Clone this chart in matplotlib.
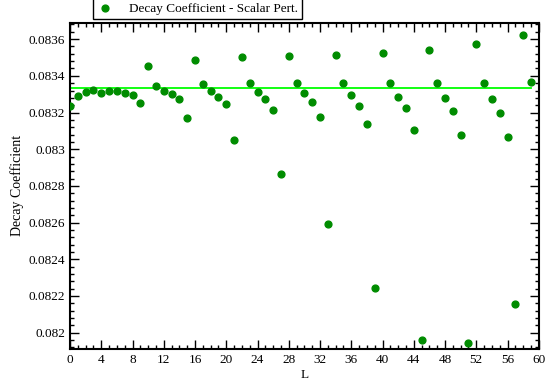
import numpy as np
import matplotlib
matplotlib.use("Agg")
import matplotlib.pyplot as plt
from matplotlib.ticker import MultipleLocator, FuncFormatter

plt.rcParams['font.family'] = ['Liberation Serif', 'DejaVu Serif']

# decay coefficient of the scalar perturbation for each multipole L
L = np.arange(60)
decay = [
    0.083238, 0.083291, 0.083312, 0.083322, 0.083309, 0.083316, 0.083315, 0.083307,
    0.083294, 0.083251, 0.083454, 0.083342, 0.083320, 0.083300, 0.083271, 0.083169,
    0.083489, 0.083354, 0.083318, 0.083287, 0.083244, 0.083049, 0.083502, 0.083360,
    0.083312, 0.083273, 0.083211, 0.082865, 0.083509, 0.083362, 0.083305, 0.083256,
    0.083174, 0.082591, 0.083514, 0.083360, 0.083296, 0.083238, 0.083138, 0.082242,
    0.083523, 0.083360, 0.083287, 0.083222, 0.083105, 0.081960, 0.083541, 0.083360,
    0.083280, 0.083207, 0.083078, 0.081945, 0.083571, 0.083362, 0.083274, 0.083195,
    0.083064, 0.082158, 0.083623, 0.083369,
]
reference = 1.0 / 12.0

fig = plt.figure(figsize=(5.47, 3.84), dpi=100)
ax = fig.add_axes([0.128, 0.091, 0.857, 0.850])

ax.plot([L[0], L[-1]], [reference, reference], color='#00ff00', lw=1.3, zorder=2)
sc = ax.scatter(L, decay, s=24, color='#008c00', zorder=3,
                label='Decay Coefficient - Scalar Pert.')

ax.set_xlim(0, 60)
ax.set_ylim(0.08191, 0.08369)
ax.xaxis.set_major_locator(MultipleLocator(4))
ax.xaxis.set_minor_locator(MultipleLocator(1))
ax.yaxis.set_major_locator(MultipleLocator(0.0002))
ax.yaxis.set_minor_locator(MultipleLocator(0.00004))
ax.yaxis.set_major_formatter(FuncFormatter(lambda v, p: '%g' % round(v, 6)))

ax.tick_params(which='both', direction='in', top=True, right=True,
               labelsize=9.5, width=1)
ax.tick_params(which='major', length=6.5)
ax.tick_params(which='minor', length=3)
for s in ax.spines.values():
    s.set_linewidth(1.5)

ax.set_xlabel('L', fontsize=9.5, labelpad=2)
ax.set_ylabel('Decay Coefficient', fontsize=10, labelpad=3)

fig.legend(handles=[sc], loc='lower left',
           bbox_to_anchor=(93 / 547, 1 - 18.5 / 384),
           borderaxespad=0, fontsize=9.5, fancybox=False, edgecolor='black',
           framealpha=1, handlelength=1.2, handletextpad=1.2, borderpad=0.3)

fig.savefig('out.png', dpi=100)
